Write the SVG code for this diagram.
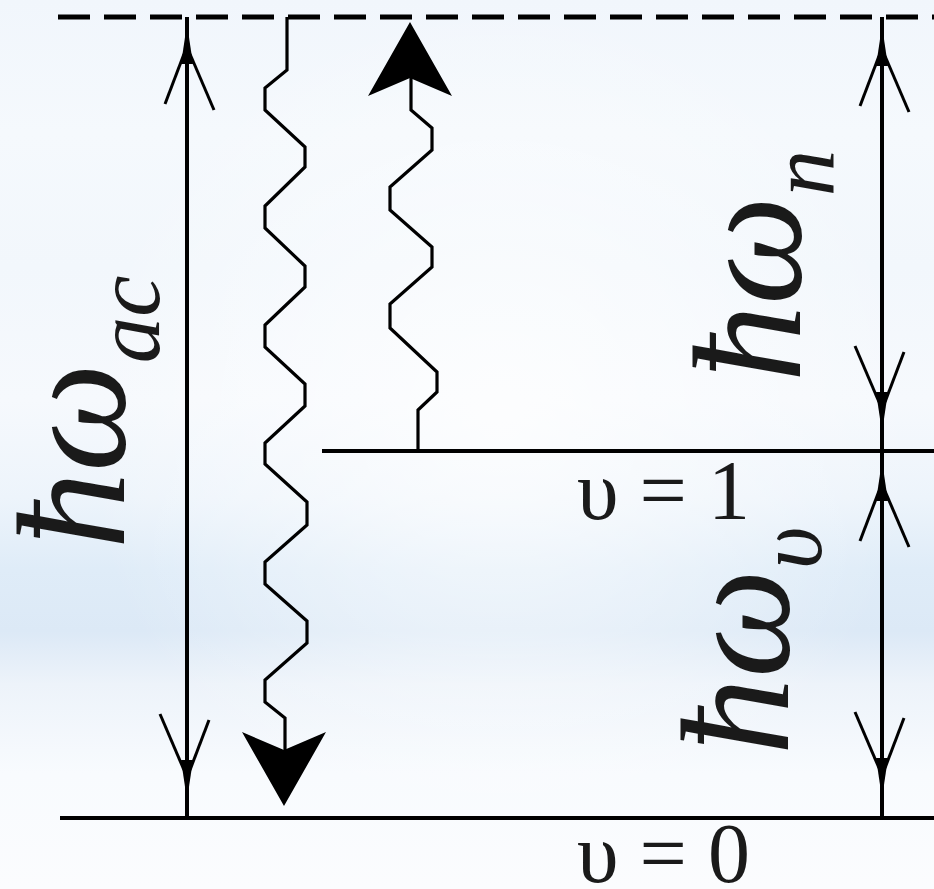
<svg xmlns="http://www.w3.org/2000/svg" width="934" height="889" viewBox="0 0 934 889">
  <defs>
    <linearGradient id="bg" x1="0" y1="0" x2="0" y2="1">
      <stop offset="0" stop-color="#f1f6fc"/>
      <stop offset="0.15" stop-color="#f5f9fd"/>
      <stop offset="0.3" stop-color="#f2f7fc"/>
      <stop offset="0.45" stop-color="#f6f9fd"/>
      <stop offset="0.56" stop-color="#edf4fb"/>
      <stop offset="0.64" stop-color="#dfecf8"/>
      <stop offset="0.71" stop-color="#dce9f6"/>
      <stop offset="0.77" stop-color="#edf3fa"/>
      <stop offset="0.87" stop-color="#f8fbfe"/>
      <stop offset="1" stop-color="#fbfcfe"/>
    </linearGradient>
    <radialGradient id="glow" cx="500" cy="420" r="420" gradientUnits="userSpaceOnUse">
      <stop offset="0" stop-color="#ffffff" stop-opacity="0.75"/>
      <stop offset="1" stop-color="#ffffff" stop-opacity="0"/>
    </radialGradient>
    <g id="openHead">
      <polygon points="0,0 -6,40 6,40" fill="#000"/>
      <line x1="-3" y1="30" x2="-22" y2="80" stroke="#000" stroke-width="3"/>
      <line x1="3" y1="30" x2="27" y2="86" stroke="#000" stroke-width="3"/>
    </g>
    <g id="filledHead">
      <polygon points="0,0 42,74 0,56 -42,74" fill="#000"/>
    </g>
  </defs>
  <style>
    .lvl { stroke:#000; stroke-width:4; fill:none; }
    .dash { stroke:#000; stroke-width:5; stroke-dasharray:32 14; fill:none; }
    .dim { stroke:#000; stroke-width:4; fill:none; }
    .wave { stroke:#000; stroke-width:3.2; fill:none; stroke-linejoin:miter; }
    .lbl { font-family:"Liberation Serif","Times New Roman",serif; font-style:italic; fill:#1a1a1a; }
    .main { font-size:154px; }
    .sub { font-size:93px; }
    .lvtxt { font-family:"Liberation Serif","Times New Roman",serif; font-size:84px; fill:#1a1a1a; }
  </style>

  <rect x="0" y="0" width="934" height="889" fill="url(#bg)"/>
  <rect x="0" y="0" width="934" height="889" fill="url(#glow)"/>

  <g id="levels">
    <line id="virtual" class="dash" x1="58" y1="17" x2="934" y2="17"/>
    <line id="v1" class="lvl" x1="322" y1="451" x2="934" y2="451"/>
    <line id="v0" class="lvl" x1="60" y1="818" x2="934" y2="818"/>
  </g>

  <g id="connectors">
    <line class="dim" x1="187" y1="17" x2="187" y2="818"/>
    <use href="#openHead" transform="translate(187,24)"/>
    <use href="#openHead" transform="translate(187,800) rotate(180)"/>

    <line class="dim" x1="882" y1="17" x2="882" y2="451"/>
    <use href="#openHead" transform="translate(882,26)"/>
    <use href="#openHead" transform="translate(882,432) rotate(180)"/>

    <line class="dim" x1="882" y1="451" x2="882" y2="818"/>
    <use href="#openHead" transform="translate(882,461)"/>
    <use href="#openHead" transform="translate(882,798) rotate(180)"/>

    <polyline class="wave" points="287,17 287,70 265,88 265,110 305,147 305,167 265,206 265,228 305,266 305,287 265,325 265,347 305,384 305,406 265,443 265,464 307,502 307,525 265,562 265,584 307,621 307,643 265,680 265,702 285,718 285,765"/>
    <use href="#filledHead" transform="translate(284,806) rotate(180)"/>

    <polyline class="wave" points="418,451 418,410 437,392 437,372 390,328 390,304 432,267 432,247 390,210 390,187 432,150 432,128 411,110 411,70"/>
    <use href="#filledHead" transform="translate(410,22)"/>
  </g>

  <g id="label-ac">
    <text class="lbl main" transform="translate(124,549) rotate(-90)">ħω<tspan class="sub" dy="35">ac</tspan></text>
  </g>
  <g id="label-n">
    <text class="lbl main" transform="translate(800,382) rotate(-90)">ħω<tspan class="sub" dy="34">n</tspan></text>
  </g>
  <g id="label-v">
    <text class="lbl main" transform="translate(788,755) rotate(-90)">ħω<tspan class="sub" dy="33">υ</tspan></text>
  </g>
  <g id="label-v1">
    <text class="lvtxt" x="577" y="519">υ = 1</text>
  </g>
  <g id="label-v0">
    <text class="lvtxt" x="577" y="882">υ = 0</text>
  </g>
</svg>
